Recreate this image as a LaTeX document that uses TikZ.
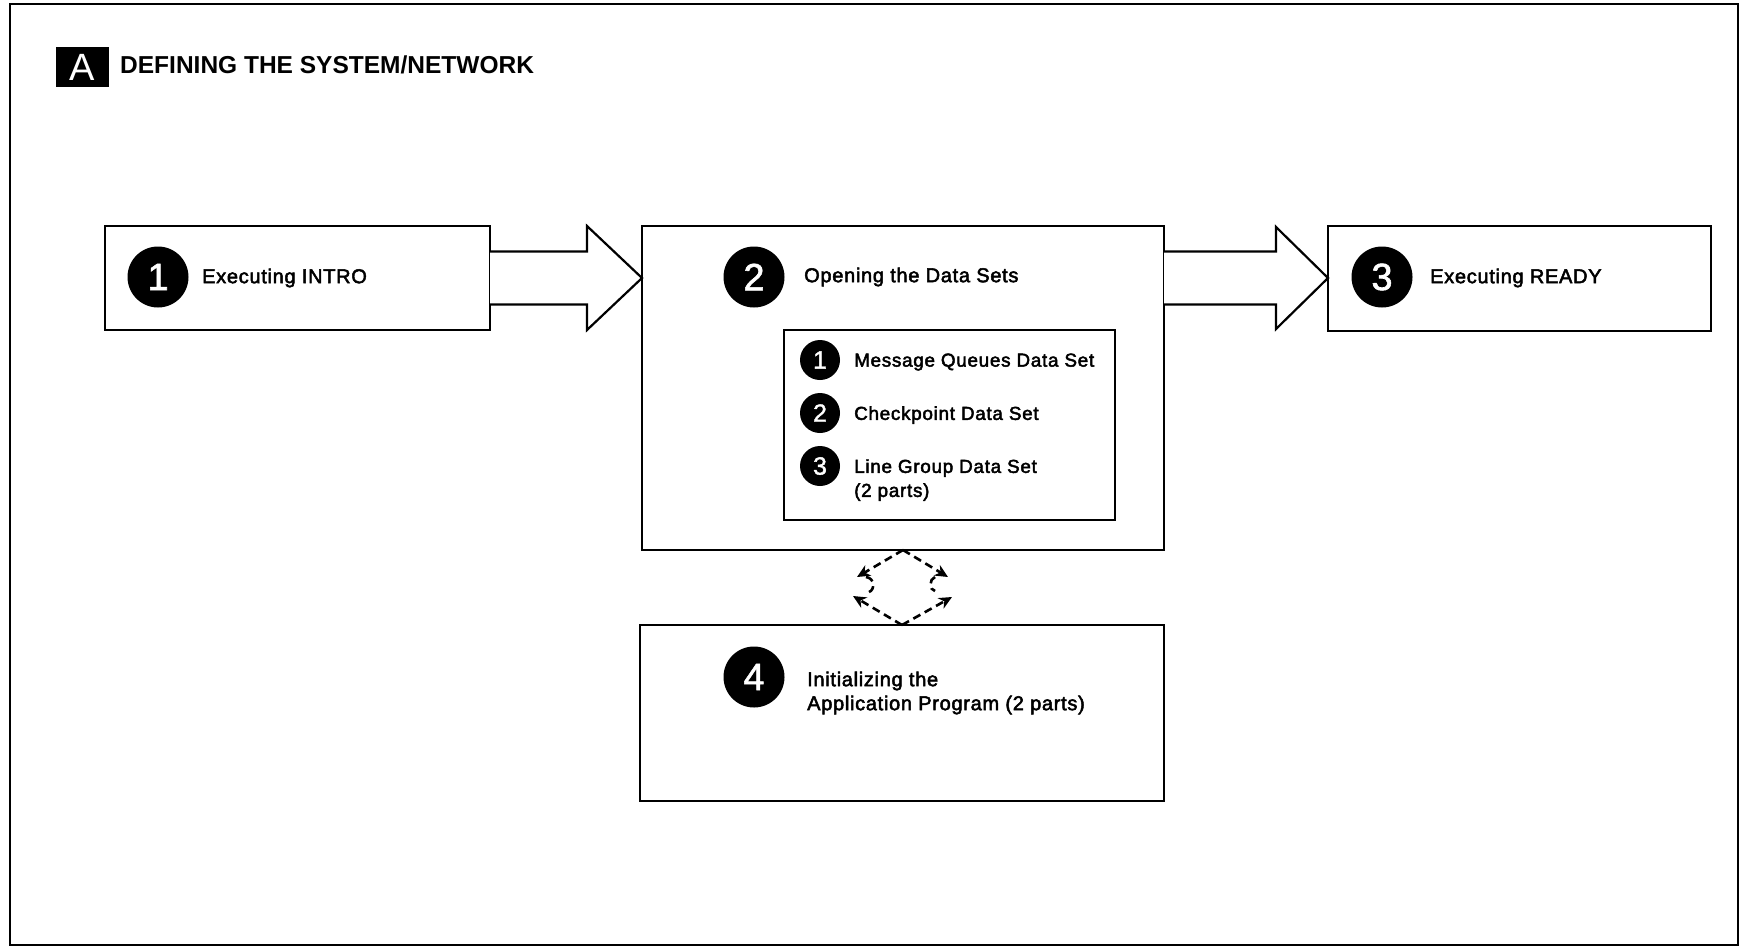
\documentclass[tikz,border=0pt]{standalone}
\usepackage{fontspec}
\setmainfont{Liberation Sans}
\newfontfamily\lblfont{Liberation Sans}[LetterSpace=3.5, FakeBold=2.5]
\newfontfamily\itemfont{Liberation Sans}[LetterSpace=4, FakeBold=2.5]
\newfontfamily\numfont{Liberation Sans}[FakeBold=1.5]
\usetikzlibrary{calc,arrows.meta}

\begin{document}
\begin{tikzpicture}[x=1pt,y=-1pt,
  box/.style={draw, line width=2.2pt, inner sep=0pt, outer sep=0pt},
  bignum/.style={circle, fill=black, text=white, minimum size=61pt, inner sep=0pt,
    font=\numfont\fontsize{38}{38}\selectfont},
  smallnum/.style={circle, fill=black, text=white, minimum size=40pt, inner sep=0pt,
    font=\numfont\fontsize{25}{25}\selectfont},
  lbl/.style={anchor=west, inner sep=0pt, align=left,
    font=\lblfont\fontsize{20}{24}\selectfont},
  item/.style={anchor=west, inner sep=0pt, align=left,
    font=\itemfont\fontsize{18.8}{24}\selectfont},
  blockarrow/.style={draw, line width=2.2pt, line join=miter, fill=white},
  link/.style={line width=2.6pt, dash pattern=on 8pt off 5pt},
  linktip/.style={-{Stealth[length=13pt,width=12pt]}}
]
\useasboundingbox (0,0) rectangle (1744,948);

% outer frame
\draw[line width=2.8pt] (10,4) rectangle (1738,945);

% heading
\node[fill=black, text=white, inner sep=0pt, minimum width=53pt, minimum height=40pt,
  font=\fontsize{38}{38}\selectfont] (tag) at (82.5,67) {A};
\node[anchor=west, inner sep=0pt, font=\bfseries\fontsize{24.5}{24.5}\selectfont]
  (title) at (120,65) {DEFINING THE SYSTEM/NETWORK};

% main boxes
\node[box, minimum width=385pt, minimum height=104pt] (b1) at (297.5,278) {};
\node[box, minimum width=522pt, minimum height=324pt] (b2) at (903,388) {};
\node[box, minimum width=331pt, minimum height=190pt] (inner) at (949.5,425) {};
\node[box, minimum width=383pt, minimum height=105pt] (b3) at (1519.5,278.5) {};
\node[box, minimum width=524pt, minimum height=176pt] (b4) at (902,713) {};

% step 1
\node[bignum] (n1) at (158,277) {1};
\node[lbl] (t1) at (202,278) {Executing INTRO};

% step 2
\node[bignum] (n2) at (754,277) {2};
\node[lbl] (t2) at (804,277) {Opening the Data Sets};
\node[smallnum] (s1) at (820,360) {1};
\node[item] (u1) at (854,362) {Message Queues Data Set};
\node[smallnum] (s2) at (820,413) {2};
\node[item] (u2) at (854,415) {Checkpoint Data Set};
\node[smallnum] (s3) at (820,466) {3};
\node[item] (u3) at (854,480) {Line Group Data Set\\(2 parts)};

% step 3
\node[bignum] (n3) at (1382,277) {3};
\node[lbl] (t3) at (1430,278) {Executing READY};

% step 4
\node[bignum] (n4) at (754,677) {4};
\node[lbl] (t4) at (807,693) {Initializing the\\Application Program (2 parts)};

% block arrows between the boxes
\coordinate (tipA) at (b2.west |- b1.east);
\draw[blockarrow]
  ($(b1.east)+(0,-26.5)$) -- ($(tipA)+(-55,-26.5)$) -- ($(tipA)+(-55,-52)$) -- (tipA)
  -- ($(tipA)+(-55,52)$) -- ($(tipA)+(-55,26.5)$) -- ($(b1.east)+(0,26.5)$);
\coordinate (tipB) at (b3.west |- b1.east);
\draw[blockarrow]
  ($(b2.east |- b1.east)+(0,-26.5)$) -- ($(tipB)+(-52,-26.5)$) -- ($(tipB)+(-52,-51)$) -- (tipB)
  -- ($(tipB)+(-52,51)$) -- ($(tipB)+(-52,26.5)$) -- ($(b2.east |- b1.east)+(0,26.5)$);

% two-way dashed link between steps 2 and 4
\coordinate (dt) at (b2.south);
\coordinate (db) at (b4.north);
\draw[link, linktip] (dt) -- ($(dt)+(-46,27)$);
\draw[link] ($(dt)+(-37,27)$) .. controls ($(dt)+(-28,28)$) and ($(dt)+(-28,40)$) .. ($(dt)+(-34,42)$);
\draw[link, linktip] (db) -- ($(db)+(-49,-29)$);
\draw[link, linktip] (dt) -- ($(dt)+(45,27)$);
\draw[link] ($(dt)+(32,27)$) .. controls ($(dt)+(26,29)$) and ($(dt)+(26,40)$) .. ($(dt)+(32,41)$);
\draw[link, linktip] (db) -- ($(db)+(50,-28)$);
\end{tikzpicture}
\end{document}
